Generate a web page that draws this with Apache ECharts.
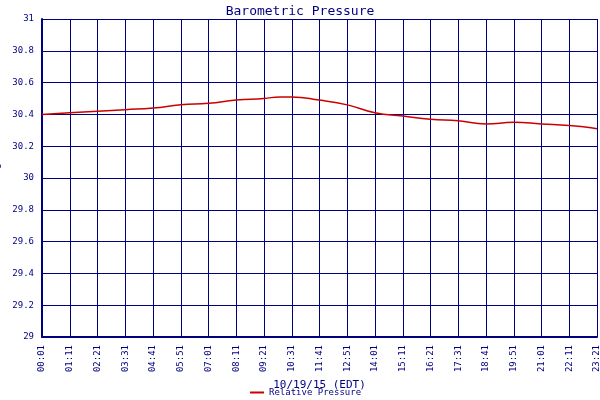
<!DOCTYPE html>
<html><head><meta charset="utf-8">
<script src="https://cdn.jsdelivr.net/npm/echarts@6/dist/echarts.min.js"></script>
<style>body{margin:0;background:#fff}#c{width:600px;height:400px}</style>
</head><body><div id="c"></div>
<script>
// minutes after 00:01
var minutes = [0, 70, 140, 210, 280, 350, 420, 490, 560, 600, 630, 700, 770, 840, 910, 980, 1050, 1120, 1190, 1260, 1330, 1370, 1400];
var pressure = [30.40, 30.41, 30.42, 30.43, 30.44, 30.46, 30.47, 30.49, 30.50, 30.51, 30.51, 30.49, 30.46, 30.41, 30.39, 30.37, 30.36, 30.34, 30.35, 30.34, 30.33, 30.32, 30.31];
var navy = '#000080';
var font = 'DejaVu Sans Mono';

function fmt(v) {
    var m = (v + 1) % 1440;
    var h = Math.floor(m / 60), mm = m % 60;
    return (h < 10 ? '0' : '') + h + ':' + (mm < 10 ? '0' : '') + mm;
}

var chart = echarts.init(document.getElementById('c'));
chart.setOption({
    animation: false,
    title: { text: 'Barometric Pressure', left: 'center', top: 0,
        textStyle: { color: navy, fontFamily: font, fontSize: 13, fontWeight: 'normal' } },
    legend: { bottom: -2, left: 245, itemWidth: 14, itemHeight: 2, icon: 'rect',
        textStyle: { color: navy, fontFamily: font, fontSize: 9 }, data: ['Relative Pressure'] },
    grid: { left: 42, right: 3, top: 19, bottom: 63, outerBoundsMode: 'none', containLabel: false },
    xAxis: {
        type: 'value', min: 0, max: 1400, interval: 70,
        name: '10/19/15 (EDT)', nameLocation: 'middle', nameGap: 38,
        nameTextStyle: { color: navy, fontFamily: font, fontSize: 11 },
        axisLine: { lineStyle: { color: navy, width: 2 } },
        axisTick: { show: false },
        splitLine: { lineStyle: { color: navy, width: 1 } },
        axisLabel: { rotate: 90, color: navy, fontFamily: font, fontSize: 9, formatter: fmt }
    },
    yAxis: {
        type: 'value', min: 29, max: 31, interval: 0.2,
        name: 'IN Hg', nameLocation: 'middle', nameGap: 32,
        nameTextStyle: { color: navy, fontFamily: font, fontSize: 10 },
        axisLine: { show: true, lineStyle: { color: navy, width: 2 } },
        axisTick: { show: false },
        splitLine: { lineStyle: { color: navy, width: 1 } },
        axisLabel: { color: navy, fontFamily: font, fontSize: 9,
            formatter: function (v) { return +v.toFixed(1); } }
    },
    series: [{
        name: 'Relative Pressure', type: 'line', smooth: true, showSymbol: false,
        lineStyle: { color: '#cc0000', width: 1.5 }, itemStyle: { color: '#cc0000' },
        data: minutes.map(function (m, i) { return [m, pressure[i]]; })
    }]
});
</script></body></html>
